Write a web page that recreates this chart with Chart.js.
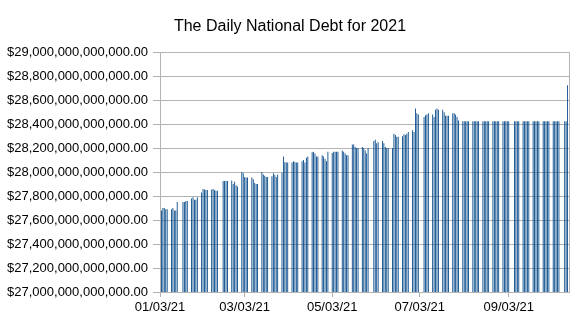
<!DOCTYPE html>
<html>
<head>
<meta charset="utf-8">
<title>The Daily National Debt for 2021</title>
<script src="https://cdn.jsdelivr.net/npm/chart.js"></script>
<style>
  html, body { margin: 0; padding: 0; background: #fff; }
  #wrap { width: 580px; height: 322px; }
</style>
</head>
<body>
<div id="wrap"><canvas id="grafico"></canvas></div>
<script>
// weekdays with data, per month (day of month) and debt in trillions of dollars
const janDays = [4,5,6,7,8,11,12,13,14,15,19,20,21,22,25,26,27,28,29];
const janDebt = [27.68,27.70,27.70,27.69,27.69, 27.69,27.70,27.68,27.68,27.75, 27.75,27.75,27.76,27.76, 27.78,27.79,27.77,27.77,27.79];
const febDays = [1,2,3,4,5,8,9,10,11,12,16,17,18,19,22,23,24,25,26];
const febDebt = [27.83,27.86,27.855,27.85,27.85, 27.855,27.86,27.85,27.845,27.845, 27.925,27.925,27.925,27.925, 27.93,27.90,27.92,27.89,27.88];
const marDays = [1,2,3,4,5,8,9,10,11,12,15,16,17,18,19,22,23,24,25,26,29,30,31];
const marDebt = [28.00,27.99,27.96,27.955,27.955, 27.955,27.94,27.91,27.90,27.90, 28.00,27.98,27.97,27.96,27.96, 27.965,27.99,27.975,27.96,27.98, 27.995,28.13,28.085];
const aprDays = [1,2,5,6,7,8,9,12,13,14,15,16,19,20,21,22,23,26,27,28,29,30];
const aprDebt = [28.08,28.08, 28.08,28.09,28.085,28.08,28.08, 28.09,28.10,28.08,28.12,28.13, 28.165,28.17,28.155,28.13,28.13, 28.14,28.13,28.11,28.09,28.17];
const mayDays = [3,4,5,6,7,10,11,12,13,14,17,18,19,20,21,24,25,26,27,28];
const mayDebt = [28.16,28.17,28.17,28.17,28.17, 28.18,28.17,28.155,28.14,28.14, 28.23,28.23,28.21,28.20,28.20, 28.21,28.20,28.18,28.155,28.20];
const junDays = [1,2,3,4,7,8,9,10,11,14,15,16,17,18,21,22,23,24,25,28,29,30];
const junDebt = [28.26,28.27,28.24,28.25, 28.26,28.24,28.21,28.20,28.20, 28.20,28.32,28.31,28.295,28.295, 28.30,28.315,28.31,28.32,28.335, 28.35,28.335,28.53];
const julDays = [1,2,6,7,8,9,12,13,14,15,16,19,20,21,22,23,26,27,28,29,30];
const julDebt = [28.49,28.48, 28.46,28.475,28.48,28.49, 28.48,28.46,28.52,28.53,28.52, 28.52,28.50,28.47,28.47,28.47, 28.49,28.49,28.48,28.46,28.43];
const augDays = [2,3,4,5,6,9,10,11,12,13,16,17,18,19,20,23,24,25,26,27,30,31];
const augDebt = [28.425,28.425,28.425,28.425,28.425, 28.425,28.425,28.425,28.425,28.425, 28.425,28.425,28.425,28.425,28.425, 28.425,28.425,28.425,28.425,28.425, 28.425,28.425];
const sepDays = [1,2,3,7,8,9,10,13,14,15,16,17,20,21,22,23,24,27,28,29,30];
const sepDebt = [28.425,28.425,28.425, 28.425,28.425,28.425,28.425, 28.425,28.425,28.425,28.425,28.425, 28.425,28.425,28.425,28.425,28.425, 28.425,28.425,28.425,28.425];
const octDays = [1,4,5,6,7,8,12,13,14];
const octDebt = [28.425, 28.425,28.425,28.425,28.425,28.425, 28.425,28.425,28.725];

const tickLabels = ["01/03/21", "03/03/21", "05/03/21", "07/03/21", "09/03/21"];
const axisStart = "01/03/21";
const axisEnd = "10/15/21";

// days since the axis start
const toDay = (m, d) => (Date.UTC(2021, m, d) - Date.UTC(2021, 0, 3)) / 864e5;
const fromLabel = s => { const p = s.split("/"); return toDay(+p[0] - 1, +p[1]); };

const months = [
  [janDays, janDebt], [febDays, febDebt], [marDays, marDebt], [aprDays, aprDebt],
  [mayDays, mayDebt], [junDays, junDebt], [julDays, julDebt], [augDays, augDebt],
  [sepDays, sepDebt], [octDays, octDebt]
];
const points = [];
months.forEach(([days, debt], m) => {
  days.forEach((d, i) => points.push({ x: toDay(m, d), y: debt[i] }));
});

const tickDays = tickLabels.map(fromLabel);

const rightBorder = {
  id: "rightBorder",
  afterDraw(chart) {
    const { ctx, chartArea } = chart;
    ctx.save();
    ctx.strokeStyle = "#b3b3b3";
    ctx.lineWidth = 1;
    ctx.beginPath();
    ctx.moveTo(Math.round(chartArea.right) + 0.5, chartArea.top);
    ctx.lineTo(Math.round(chartArea.right) + 0.5, chartArea.bottom);
    ctx.stroke();
    ctx.restore();
  }
};

const money = v => "$" + (Math.round(v * 10) * 1e11).toLocaleString("en-US", { minimumFractionDigits: 2, maximumFractionDigits: 2 });

new Chart(document.getElementById("grafico"), {
  type: "bar",
  data: {
    datasets: [{
      label: "Debt",
      data: points,
      backgroundColor: "#004586",
      barPercentage: 0.6,
      categoryPercentage: 1
    }]
  },
  options: {
    responsive: true,
    maintainAspectRatio: false,
    animation: false,
    layout: { padding: 0 },
    plugins: {
      legend: { display: false },
      tooltip: { enabled: false },
      title: {
        display: true,
        text: "The Daily National Debt for 2021",
        color: "#000",
        font: { family: "Liberation Sans", size: 16, weight: "normal" },
        padding: { top: 17, bottom: 16 }
      }
    },
    scales: {
      x: {
        type: "linear",
        offset: false,
        min: fromLabel(axisStart),
        max: fromLabel(axisEnd),
        afterBuildTicks: s => { s.ticks = tickDays.map(v => ({ value: v })); },
        afterFit: s => { s.height = 30; },
        grid: { offset: false, drawOnChartArea: false, color: "#b3b3b3", tickLength: 5 },
        border: { color: "#b3b3b3" },
        ticks: {
          autoSkip: false,
          maxRotation: 0,
          padding: 3,
          color: "#000",
          font: { family: "Liberation Sans", size: 13 },
          callback: v => tickLabels[tickDays.indexOf(v)]
        }
      },
      y: {
        min: 27,
        max: 29,
        afterFit: s => { s.width = 160; },
        grid: { color: "#b3b3b3", tickLength: 7 },
        border: { color: "#b3b3b3" },
        ticks: {
          stepSize: 0.2,
          padding: 5,
          color: "#000",
          font: { family: "Liberation Sans", size: 13 },
          callback: money
        }
      },
      // empty right margin so the plot ends where the reference's does
      yRight: {
        position: "right",
        afterFit: s => { s.width = 11; },
        grid: { display: false },
        border: { display: false },
        ticks: { display: false }
      }
    }
  },
  plugins: [rightBorder]
});
</script>
</body>
</html>
